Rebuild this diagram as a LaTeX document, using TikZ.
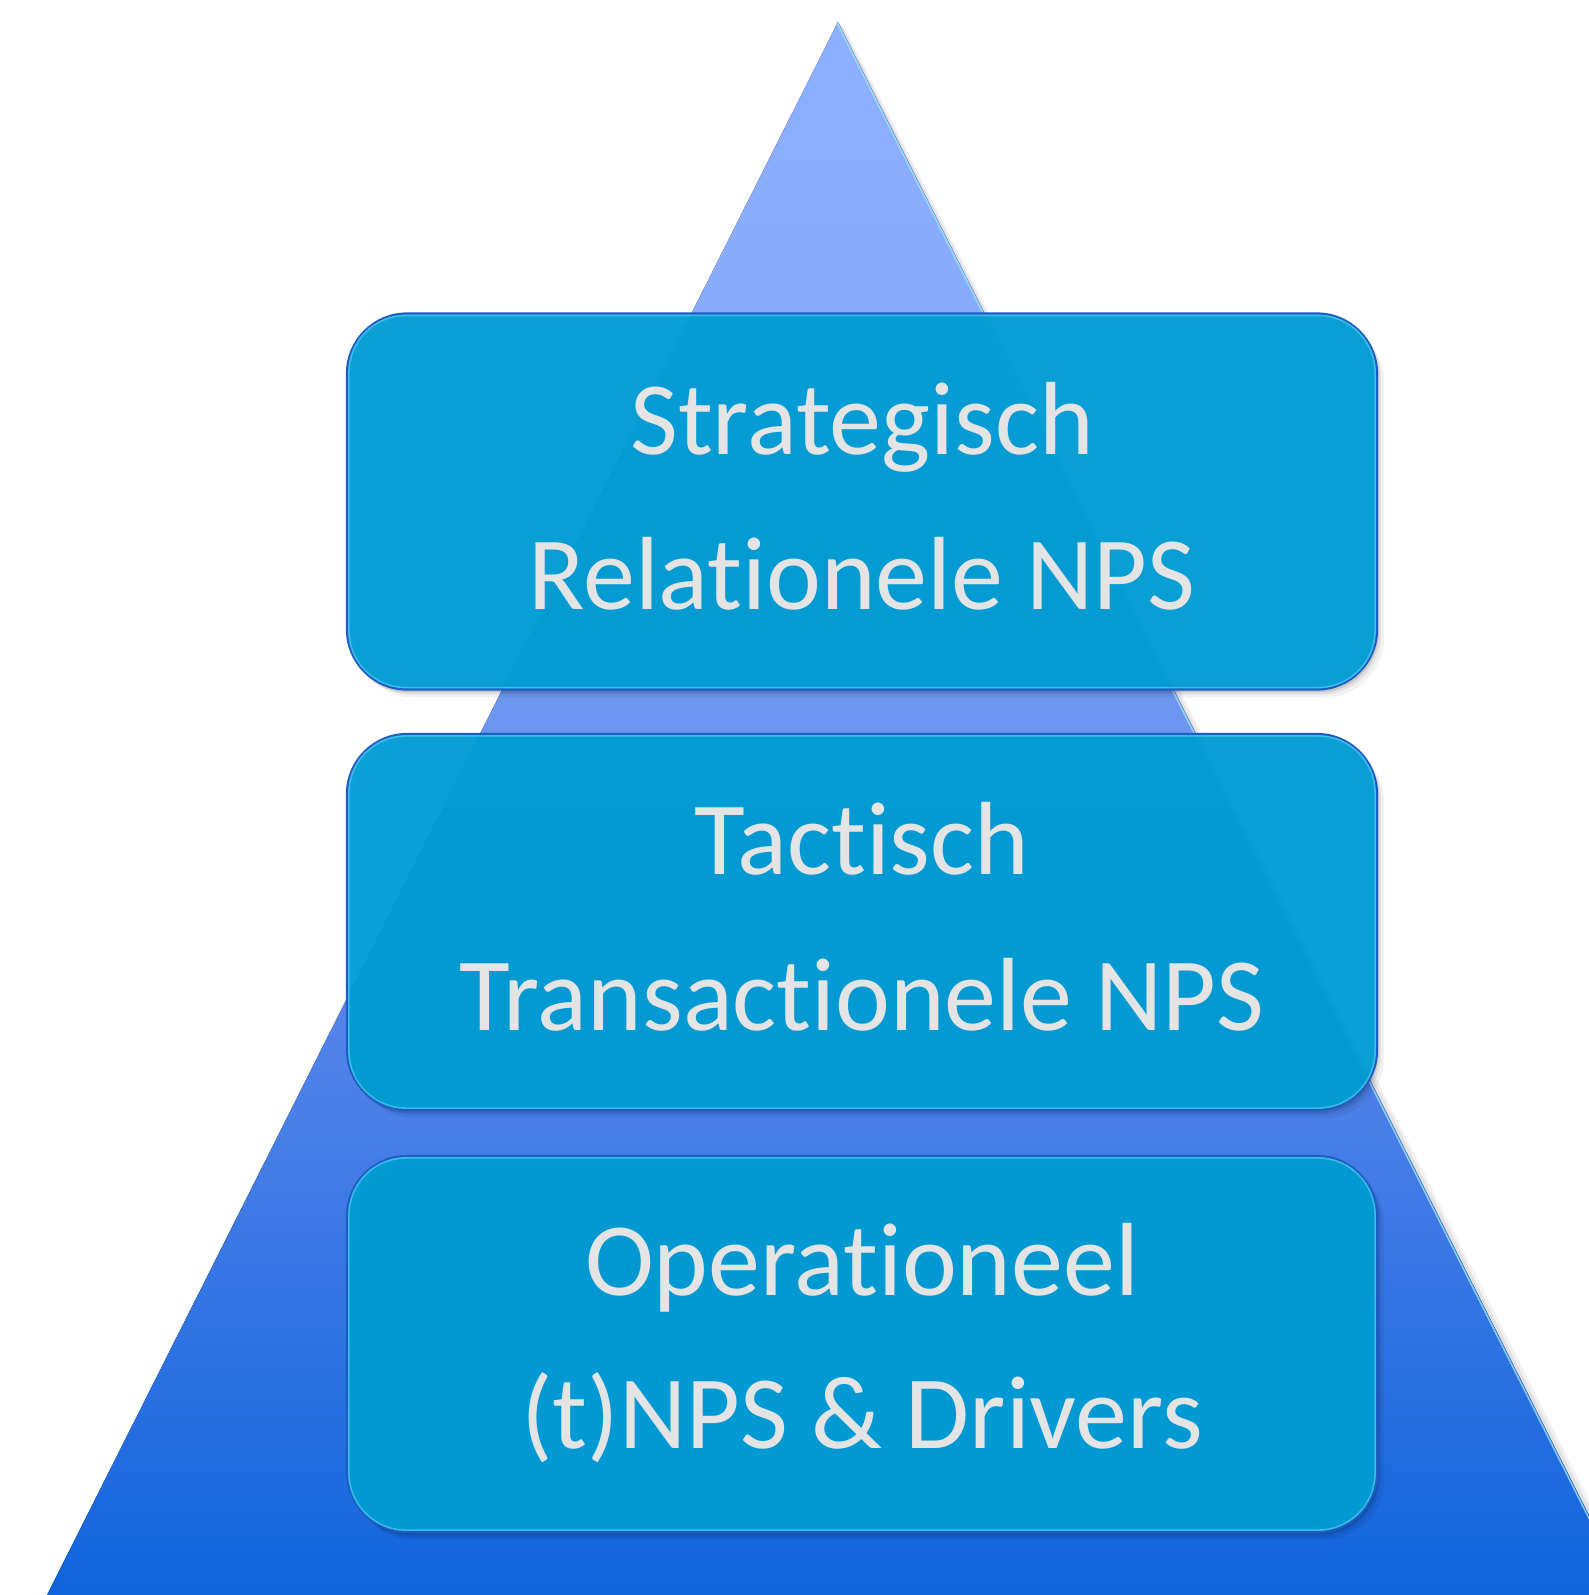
\documentclass[tikz,border=0pt]{standalone}
\usepackage{fontspec}
\setmainfont{Carlito}[Ligatures={NoCommon}]
\definecolor{ptop}{HTML}{8DB0FE}
\definecolor{pone}{HTML}{88ACFC}
\definecolor{ptwo}{HTML}{6E97F0}
\definecolor{pthree}{HTML}{4A7FE8}
\definecolor{pbot}{HTML}{1064DC}
\definecolor{boxc}{HTML}{009DD5}
\definecolor{boxedge}{HTML}{1A5EC4}
\definecolor{boxlight}{HTML}{62D4F6}
\definecolor{txt}{HTML}{E4E4E4}
\pgfdeclareverticalshading{pyr}{100bp}{color(0bp)=(pbot); color(25bp)=(pbot); color(40.4bp)=(pthree); color(53.5bp)=(ptwo); color(66bp)=(pone); color(75bp)=(ptop); color(100bp)=(ptop)}
\tikzset{
  layerbox/.style={rectangle, rounded corners=60pt, minimum width=1030pt, minimum height=376pt, inner sep=0pt,
    preaction={fill=black, fill opacity=0.05, transform canvas={shift={(7pt,-8pt)}}},
    preaction={fill=black, fill opacity=0.07, transform canvas={shift={(4pt,-5pt)}}},
    preaction={fill=black, fill opacity=0.10, transform canvas={shift={(2pt,-3pt)}}},
    fill=boxc, fill opacity=0.95, draw=boxedge, line width=2.2pt},
  lightline/.style={draw=boxlight, line width=1.6pt, rounded corners=57pt, opacity=0.6},
  lbl/.style={anchor=base, inner sep=0pt, text=txt, font=\fontsize{104pt}{124pt}\selectfont}
}
\begin{document}
\begin{tikzpicture}[x=1pt, y=-1pt]
\useasboundingbox (0,0) rectangle (1589,1595);
\clip (0,0) rectangle (1589,1595);
% pyramid shadow
\fill[black, opacity=0.05] (844,26) -- (55,1600) -- (1640,1600) -- cycle;
\fill[black, opacity=0.07] (841,24) -- (51,1598) -- (1635,1598) -- cycle;
% pyramid
\coordinate (apex) at (838,22);
\coordinate (bl) at (47,1595);
\coordinate (br) at (1629,1595);
\fill[shading=pyr] (apex) -- (bl) -- (br) -- cycle;
\draw[white!60!cyan, line width=1.6pt, opacity=0.8] ([xshift=-1.5pt]apex) -- ([xshift=-1.5pt]br);
% boxes
\node[layerbox] (box1) at (862,501.5) {};
\node[layerbox] (box2) at (862,922) {};
\node[layerbox] (box3) at (862,1344) {};
\foreach \b in {box1,box2,box3}{
  \draw[lightline] ([shift={(3pt,-3pt)}]\b.north west) rectangle ([shift={(-3pt,3pt)}]\b.south east);
}
% labels
\node[lbl] (s1) at (862,454) {Strategisch};
\node[lbl] (s2) at (862,609) {Relationele NPS};
\node[lbl] (t1) at (862,874) {Tactisch};
\node[lbl] (t2) at (862,1030) {Transactionele NPS};
\node[lbl] (o1) at (862,1295) {Operationeel};
\node[lbl] (o2) at (862,1448) {(t)NPS \& Drivers};
\end{tikzpicture}
\end{document}
